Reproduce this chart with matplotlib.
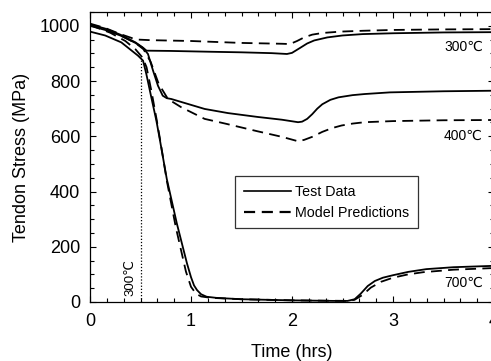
import matplotlib
matplotlib.use("Agg")
import matplotlib.pyplot as plt
from matplotlib.lines import Line2D

plt.rcParams['font.family'] = ['Liberation Sans', 'DejaVu Sans']

# ---- data (time in hrs, stress in MPa) ----
t300_test = [0, 0.15, 0.3, 0.45, 0.52, 0.56, 0.8, 1.2, 1.5, 1.8, 1.95, 2.0, 2.08, 2.15, 2.22, 2.35,
             2.5, 2.7, 3.0, 3.5, 4.0]
s300_test = [1005, 990, 968, 940, 922, 910, 909, 906, 904, 901, 898, 902, 920, 936, 947, 958,
             965, 970, 973, 976, 977]

t300_model = [0, 0.15, 0.3, 0.42, 0.48, 0.6, 1.0, 1.5, 1.9, 1.98, 2.05, 2.12, 2.2, 2.3, 2.48,
              2.7, 3.0, 3.5, 4.0]
s300_model = [1008, 992, 970, 955, 950, 948, 945, 938, 935, 934, 945, 958, 968, 974, 979,
              982, 985, 987, 988]

t400_test = [0, 0.15, 0.3, 0.45, 0.525, 0.574, 0.624, 0.673, 0.72, 0.76, 0.805, 0.97, 1.135, 1.366,
             1.66, 1.9, 2.06, 2.1, 2.15, 2.2, 2.25, 2.3, 2.38, 2.46, 2.6, 2.72, 2.97, 3.5, 4.0]
s400_test = [1000, 985, 965, 938, 920, 898, 838, 783, 747, 738, 735, 717, 699, 684,
             670, 660, 651, 653, 663, 680, 700, 716, 732, 741, 749, 753, 759, 763, 765]

t400_model = [0, 0.15, 0.3, 0.45, 0.53, 0.6, 0.68, 0.772, 0.904, 1.135, 1.35, 1.66, 1.9, 2.06,
              2.12, 2.2, 2.3, 2.4, 2.49, 2.6, 2.72, 3.0, 3.5, 4.0]
s400_model = [1003, 988, 966, 938, 915, 870, 790, 735, 705, 663, 645, 618, 598, 582,
              587, 598, 616, 630, 639, 646, 651, 655, 658, 659]

t700_test = [0, 0.15, 0.31, 0.475, 0.525, 0.558, 0.607, 0.657, 0.69, 0.76, 0.86, 0.96, 1.0, 1.03,
             1.06, 1.1, 1.155, 1.25, 1.5, 2.0, 2.4, 2.55, 2.62, 2.68, 2.75, 2.82, 2.9, 3.0, 3.15,
             3.33, 3.6, 4.0]
s700_test = [979, 965, 940, 892, 874, 825, 741, 657, 591, 446, 284, 140, 90, 60,
             43, 28, 19, 15, 10, 6, 4, 4, 10, 30, 58, 76, 88, 97, 109,
             119, 126, 131]

t700_model = [0, 0.2, 0.35, 0.45, 0.52, 0.56, 0.61, 0.66, 0.7, 0.76, 0.85, 0.95, 1.0, 1.05, 1.1,
              1.2, 1.5, 2.0, 2.55, 2.62, 2.7, 2.78, 2.88, 3.0, 3.15, 3.3, 3.6, 4.0]
s700_model = [1003, 975, 945, 915, 885, 850, 760, 660, 575, 440, 270, 110, 55, 30, 20,
              15, 10, 6, 4, 8, 26, 52, 73, 88, 100, 108, 117, 123]

temp_labels = ['300\u2103', '400\u2103', '700\u2103']
temp_label_pos = [(3.89, 922), (3.89, 603), (3.89, 69)]

x_ticks = [0, 1, 2, 3, 4]
y_ticks = [0, 200, 400, 600, 800, 1000]

# ---- figure ----
fig = plt.figure(figsize=(4.91, 3.61), dpi=100)
ax = fig.add_axes([90/491, 59/361, 404/491, 290/361])

lw = 1.3
dash = (0, (6, 3.5))
ax.plot(t300_test, s300_test, color='black', lw=lw)
ax.plot(t300_model, s300_model, color='black', lw=lw, linestyle=dash)
ax.plot(t400_test, s400_test, color='black', lw=lw)
ax.plot(t400_model, s400_model, color='black', lw=lw, linestyle=dash)
ax.plot(t700_test, s700_test, color='black', lw=lw)
ax.plot(t700_model, s700_model, color='black', lw=lw, linestyle=dash)

# vertical dotted marker at 0.5 h
ax.plot([0.5, 0.5], [0, 880], color='black', lw=0.9, linestyle=(0, (1, 1.5)))
ax.text(0.40, 90, '300\u2103', rotation=90, ha='center', va='center', fontsize=9.5)

for lab, (x, y) in zip(temp_labels, temp_label_pos):
    ax.text(x, y, lab, ha='right', va='center', fontsize=10)

ax.set_xlim(0, 4)
ax.set_ylim(0, 1050)
ax.set_xticks(x_ticks)
ax.set_xticklabels([str(v) for v in x_ticks])
ax.set_yticks(y_ticks)
ax.set_yticklabels([str(v) for v in y_ticks])
ax.set_xticks([i / 6 for i in range(0, 25)], minor=True)
ax.set_yticks(list(range(0, 1051, 50)), minor=True)
ax.tick_params(which='both', direction='in', top=True, right=True, labelsize=13)
ax.tick_params(which='major', length=4.5, width=0.8)
ax.tick_params(which='minor', length=2.8, width=0.8)
ax.tick_params(axis='x', pad=8)
ax.tick_params(axis='y', pad=7)
for sp in ax.spines.values():
    sp.set_linewidth(0.9)

ax.set_xlabel('Time (hrs)', fontsize=13, labelpad=10)
ax.set_ylabel('Tendon Stress (MPa)', fontsize=13, labelpad=7)

handles = [Line2D([], [], color='black', lw=1.2),
           Line2D([], [], color='black', lw=1.6, linestyle=(0, (5, 3)))]
leg = ax.legend(handles, ['Test Data', 'Model Predictions'], loc='upper left',
                bbox_to_anchor=(0.359, 0.434), fontsize=10.3, handlelength=3.3,
                handletextpad=0.3, borderpad=0.6, labelspacing=0.5,
                fancybox=False, framealpha=1, edgecolor='#333333', borderaxespad=0)
leg.get_frame().set_linewidth(0.9)

fig.savefig('out.png', dpi=100)
